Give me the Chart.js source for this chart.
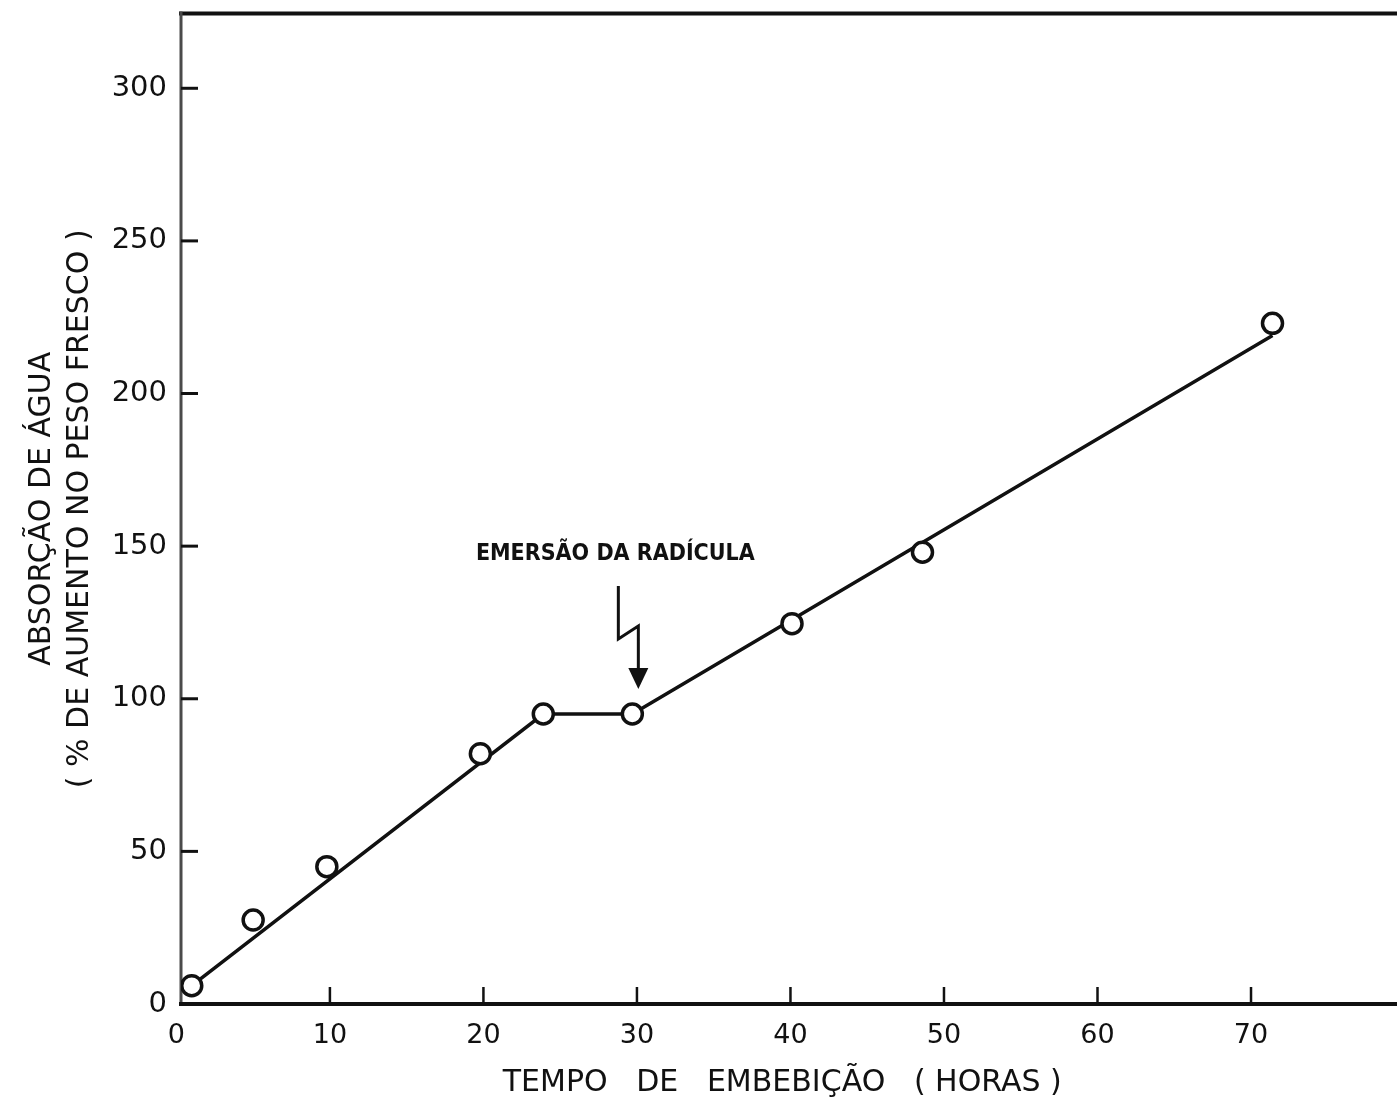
<!DOCTYPE html>
<html>
<head>
<meta charset="utf-8">
<script src="https://cdn.jsdelivr.net/npm/chart.js@4/dist/chart.umd.min.js"></script>
<style>
  html, body { margin: 0; padding: 0; background: #fff; overflow: hidden; }
  #wrap { width: 1397px; height: 1105px; }
</style>
</head>
<body>
<div id="wrap"><canvas id="c" width="1397" height="1105"></canvas></div>
<script>
// Water uptake of seeds during imbibition (hours vs % fresh-weight gain)
const hours = [1, 5, 9.8, 19.8, 23.9, 29.7, 40.1, 48.6, 71.4];
const absorption = [6, 27.5, 45, 82, 95, 95, 124.6, 148, 223];

// Fitted broken line through the measurements
const trendHours = [1, 23.9, 29.7, 71.4];
const trendAbsorption = [6, 95, 95, 219];

const xTickValues = [0, 10, 20, 30, 40, 50, 60, 70];
const yTickValues = [0, 50, 100, 150, 200, 250, 300];

const xTitle = 'TEMPO   DE   EMBEBIÇÃO   ( HORAS )';
const yTitle = ['ABSORÇÃO DE ÁGUA', '( % DE AUMENTO NO PESO FRESCO )'];

// Radicle emergence marker
const eventHour = 29.7;
const eventLabel = 'EMERSÃO DA RADÍCULA';

const INK = '#111111';
const FONT = '"DejaVu Sans", sans-serif';

const framePlugin = {
  id: 'frame',
  beforeDatasetsDraw(chart) {
    const ctx = chart.ctx;
    const { left, top, bottom } = chart.chartArea;
    const xs = chart.scales.x, ys = chart.scales.y;
    ctx.save();
    ctx.lineCap = 'butt';
    // top border
    ctx.strokeStyle = INK;
    ctx.lineWidth = 4;
    ctx.beginPath();
    ctx.moveTo(left - 2, top);
    ctx.lineTo(chart.width, top);
    ctx.stroke();
    // left axis
    ctx.strokeStyle = '#4a4a4a';
    ctx.lineWidth = 3;
    ctx.beginPath();
    ctx.moveTo(left, top - 2);
    ctx.lineTo(left, bottom);
    ctx.stroke();
    // bottom axis
    ctx.strokeStyle = INK;
    ctx.lineWidth = 4;
    ctx.beginPath();
    ctx.moveTo(left - 2, bottom);
    ctx.lineTo(chart.width, bottom);
    ctx.stroke();
    // inward tick marks
    ctx.lineWidth = 2.5;
    xTickValues.forEach(v => {
      if (v === 0) return;
      const px = xs.getPixelForValue(v);
      ctx.beginPath();
      ctx.moveTo(px, bottom);
      ctx.lineTo(px, bottom - 17);
      ctx.stroke();
    });
    ctx.lineWidth = 3;
    yTickValues.forEach(v => {
      if (v === 0) return;
      const py = ys.getPixelForValue(v);
      ctx.beginPath();
      ctx.moveTo(left, py);
      ctx.lineTo(left + 17, py);
      ctx.stroke();
    });
    ctx.restore();
  },
  afterDatasetsDraw(chart) {
    const ctx = chart.ctx;
    const i = hours.indexOf(eventHour);
    const px = chart.scales.x.getPixelForValue(hours[i]);
    const py = chart.scales.y.getPixelForValue(absorption[i]);
    ctx.save();
    ctx.fillStyle = INK;
    ctx.strokeStyle = INK;
    ctx.font = 'bold 23px "DejaVu Sans Condensed", "DejaVu Sans", sans-serif';
    ctx.textAlign = 'center';
    ctx.textBaseline = 'middle';
    ctx.fillText(eventLabel, px - 17, py - 160);
    // zig-zag arrow
    ctx.lineWidth = 3;
    ctx.lineJoin = 'miter';
    ctx.beginPath();
    ctx.moveTo(px - 14, py - 128);
    ctx.lineTo(px - 14, py - 75);
    ctx.lineTo(px + 6, py - 88);
    ctx.lineTo(px + 6, py - 45);
    ctx.stroke();
    ctx.beginPath();
    ctx.moveTo(px - 4, py - 46);
    ctx.lineTo(px + 16, py - 46);
    ctx.lineTo(px + 6, py - 25);
    ctx.closePath();
    ctx.fill();
    ctx.restore();
  }
};

function noEdgePadding(s) {
  s.paddingTop = 0;
  s.paddingBottom = 0;
  s.paddingLeft = 0;
  s.paddingRight = 0;
}

new Chart(document.getElementById('c'), {
  type: 'scatter',
  data: {
    datasets: [
      {
        label: 'Absorção',
        data: hours.map((h, k) => ({ x: h, y: absorption[k] })),
        pointStyle: 'circle',
        pointRadius: 10,
        pointHoverRadius: 10,
        pointBorderWidth: 3.5,
        pointBackgroundColor: '#ffffff',
        pointBorderColor: INK,
        showLine: false,
        order: 0
      },
      {
        label: 'Ajuste',
        data: trendHours.map((h, k) => ({ x: h, y: trendAbsorption[k] })),
        showLine: true,
        borderColor: INK,
        borderWidth: 3.5,
        pointRadius: 0,
        tension: 0,
        fill: false,
        order: 1
      }
    ]
  },
  options: {
    responsive: false,
    animation: false,
    devicePixelRatio: 1,
    layout: { padding: { top: 12, right: 0, bottom: 0, left: 0 } },
    plugins: { legend: { display: false }, tooltip: { enabled: false } },
    scales: {
      x: {
        type: 'linear',
        min: 0.3,
        max: 78.63,
        afterBuildTicks: s => { s.ticks = xTickValues.map(v => ({ value: v })); },
        afterFit: s => { s.height = 101; noEdgePadding(s); },
        grid: { display: false, drawTicks: false },
        border: { display: false },
        ticks: {
          color: INK,
          font: { family: FONT, size: 27 },
          padding: 16,
          maxRotation: 0,
          autoSkip: false
        },
        title: {
          display: true,
          text: xTitle,
          color: INK,
          font: { family: FONT, size: 30 },
          padding: { top: 0, bottom: 4 }
        }
      },
      y: {
        type: 'linear',
        min: 0,
        max: 324.5,
        afterBuildTicks: s => { s.ticks = yTickValues.map(v => ({ value: v })); },
        afterFit: s => { s.width = 181; noEdgePadding(s); },
        grid: { display: false, drawTicks: false },
        border: { display: false },
        ticks: {
          color: INK,
          font: { family: FONT, size: 29 },
          padding: 14,
          autoSkip: false
        },
        title: {
          display: true,
          text: yTitle,
          color: INK,
          font: { family: FONT, size: 30, lineHeight: 1.27 },
          padding: { top: 23, bottom: 0 }
        }
      }
    }
  },
  plugins: [framePlugin]
});
</script>
</body>
</html>
